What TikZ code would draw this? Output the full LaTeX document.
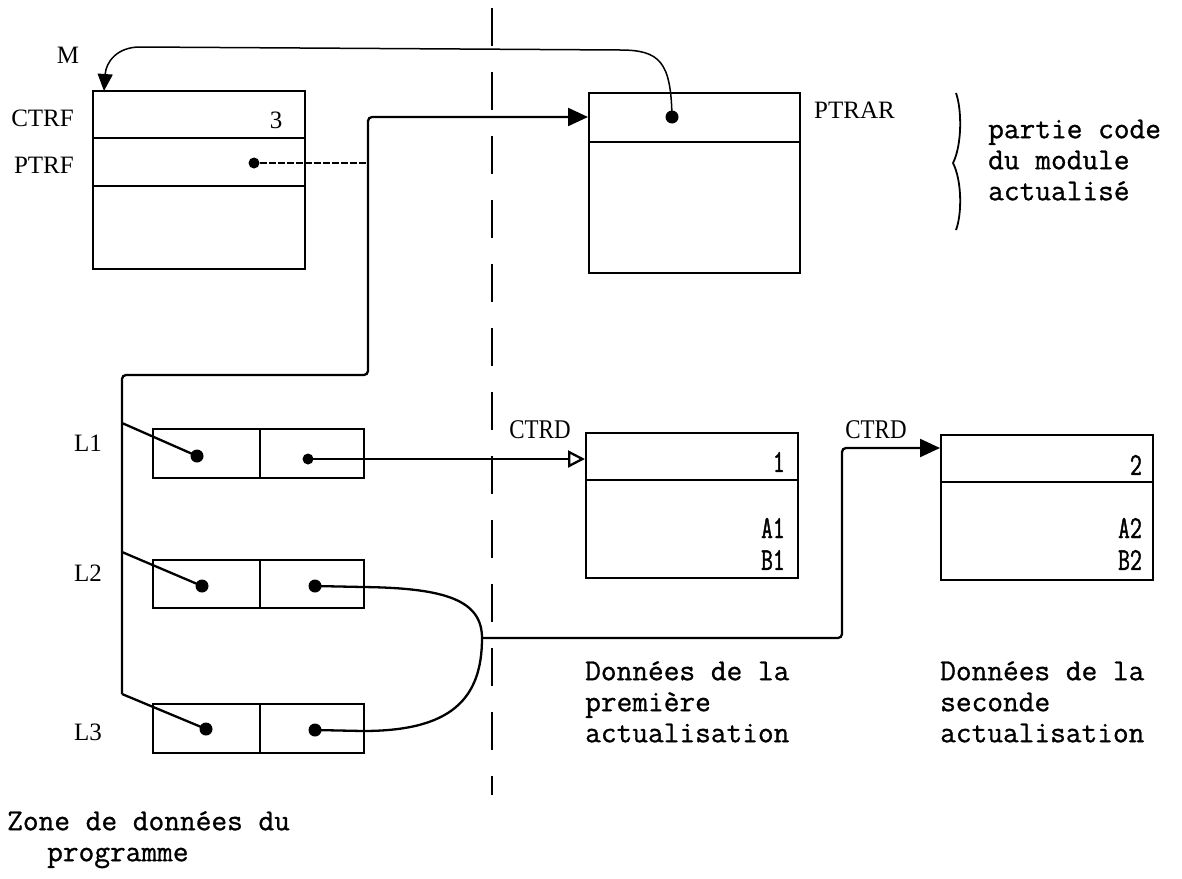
\documentclass[tikz,border=0pt]{standalone}
\usepackage{fontspec}
\setmainfont{Liberation Serif}
\newfontfamily\twfont[FakeBold=0.9]{Latin Modern Mono}
\newfontfamily\cdfont[FakeStretch=0.72,FakeBold=1.3]{Latin Modern Mono}
\newfontfamily\cdserif[FakeStretch=0.85]{Liberation Serif}
\usetikzlibrary{arrows.meta}
\begin{document}
\begin{tikzpicture}[x=1pt,y=-1pt,
  box/.style={draw, line width=2.3pt, inner sep=0pt, anchor=north west},
  sep/.style={line width=2.1pt},
  wire/.style={line width=2.3pt},
  thinwire/.style={line width=1.5pt},
  dot/.style={circle, fill=black, inner sep=0pt, minimum size=13pt},
  sdot/.style={circle, fill=black, inner sep=0pt, minimum size=11pt},
  lab/.style={font=\fontsize{25}{28}\selectfont, inner sep=0pt},
  ctrd/.style={font=\cdserif\fontsize{27}{29}\selectfont, inner sep=0pt},
  tw/.style={font=\twfont\fontsize{30.5}{31}\selectfont, align=left, inner sep=0pt, anchor=north west},
  cd/.style={font=\cdfont\fontsize{32}{32}\selectfont, inner sep=0pt, anchor=east},
  tip/.style={-{Triangle[length=20pt,width=18pt]}},
  otip/.style={-{Triangle[open,length=17pt,width=17pt]}},
]
\useasboundingbox (0,0) rectangle (1182,878);

% divider
\coordinate (dtop) at (492,8);
\coordinate (dbot) at (492,795);
\draw[line width=2pt, dash pattern=on 38pt off 26pt] (dtop) -- (dbot);

% CTRF box
\node[box, minimum width=212pt, minimum height=178pt] (cf) at (92,90) {};
\draw[sep] (92,138) -- (304,138);
\draw[sep] (92,186) -- (304,186);
\node[lab] (M) at (68,55) {M};
\node[lab, anchor=east] (lctrf) at (74,118) {CTRF};
\node[lab, anchor=east] (lptrf) at (74,165) {PTRF};
\node[lab] (v3) at (276,120) {3};
\node[sdot] (fdot) at (254,163) {};

% PTRAR box
\node[box, minimum width=211pt, minimum height=180pt] (pa) at (588,92) {};
\draw[sep] (588,142) -- (799,142);
\node[dot] (pdot) at (672,117) {};
\node[lab, anchor=west] (lptrar) at (814,110) {PTRAR};

% brace and text
\draw[line width=1.8pt] (956,93) .. controls (962,110) and (962,145) .. (953,163) .. controls (962,181) and (962,214) .. (956,230);
\node[tw, anchor=west] (pc) at (988,160) {partie code\\du module\\actualisé};

% M arrow
\coordinate (mtip) at (104,91);
\draw[thinwire, -{Triangle[length=17pt,width=15pt]}] (pdot.center) .. controls (671,62) and (660,50) .. (620,50) -- (140,47) .. controls (117,47) and (106,62) .. (mtip);

% PTRF pointer
\coordinate (jf) at (368,163);
\draw[thinwire, dash pattern=on 7pt off 2pt] (fdot) -- (jf);

% L boxes
\node[box, minimum width=211pt, minimum height=49pt] (L1) at (152,428) {};
\draw[sep] (260,428) -- (260,477);
\node[box, minimum width=211pt, minimum height=48pt] (L2) at (152,559) {};
\draw[sep] (260,559) -- (260,607);
\node[box, minimum width=211pt, minimum height=49pt] (L3) at (152,703) {};
\draw[sep] (260,703) -- (260,752);
\node[dot] (l1a) at (197,456) {};
\node[sdot] (l1b) at (308,459) {};
\node[dot] (l2a) at (202,586) {};
\node[dot] (l2b) at (315,586) {};
\node[dot] (l3a) at (206,729) {};
\node[dot] (l3b) at (315,730) {};
\node[lab] (lL1) at (88,443) {L1};
\node[lab] (lL2) at (88,573) {L2};
\node[lab] (lL3) at (88,732) {L3};

% backbone
\coordinate (b1) at (122,423);
\coordinate (b2) at (122,552);
\coordinate (b3) at (122,694);
\coordinate (pin) at (588,117);
\draw[wire, rounded corners=4pt, tip] (b3) -- (122,375) -- (368,375) -- (368,117) -- (pin);
\draw[wire] (b1) -- (l1a.center);
\draw[wire] (b2) -- (l2a.center);
\draw[wire] (b3) -- (l3a.center);

% data boxes
\node[box, minimum width=212pt, minimum height=145pt] (d1) at (585,432) {};
\draw[sep] (585,480) -- (797,480);
\node[cd] (n1) at (785,462) {1};
\node[cd] (a1) at (785,528) {A1};
\node[cd] (bb1) at (785,560) {B1};
\node[ctrd] (c1) at (540,430) {CTRD};

\node[box, minimum width=212pt, minimum height=145pt] (d2) at (940,434) {};
\draw[sep] (940,482) -- (1152,482);
\node[cd] (n2) at (1142,465) {2};
\node[cd] (a2) at (1142,528) {A2};
\node[cd] (bb2) at (1142,560) {B2};
\node[ctrd] (c2) at (876,430) {CTRD};

% L1 -> first data
\draw[wire, otip] (l1b.center) -- (l1b.center -| d1.west);

% L2, L3 -> junction -> second data
\coordinate (jn) at (482,638);
\coordinate (d2in) at (940,448);
\draw[wire] (l2b.center) -- (363,587) .. controls (445,588) and (482,600) .. (jn);
\draw[wire] (l3b.center) -- (363,731) .. controls (450,731) and (482,700) .. (jn);
\draw[wire, rounded corners=4pt, tip] (jn) -- (842,638) -- (842,448) -- (d2in);

% captions
\node[tw] (t1) at (585,661) {Données de la\\première\\actualisation};
\node[tw] (t2) at (940,661) {Données de la\\seconde\\actualisation};
\node[tw] (t3) at (7,811) {Zone de données du\\\hspace*{40pt}programme};
\end{tikzpicture}
\end{document}
